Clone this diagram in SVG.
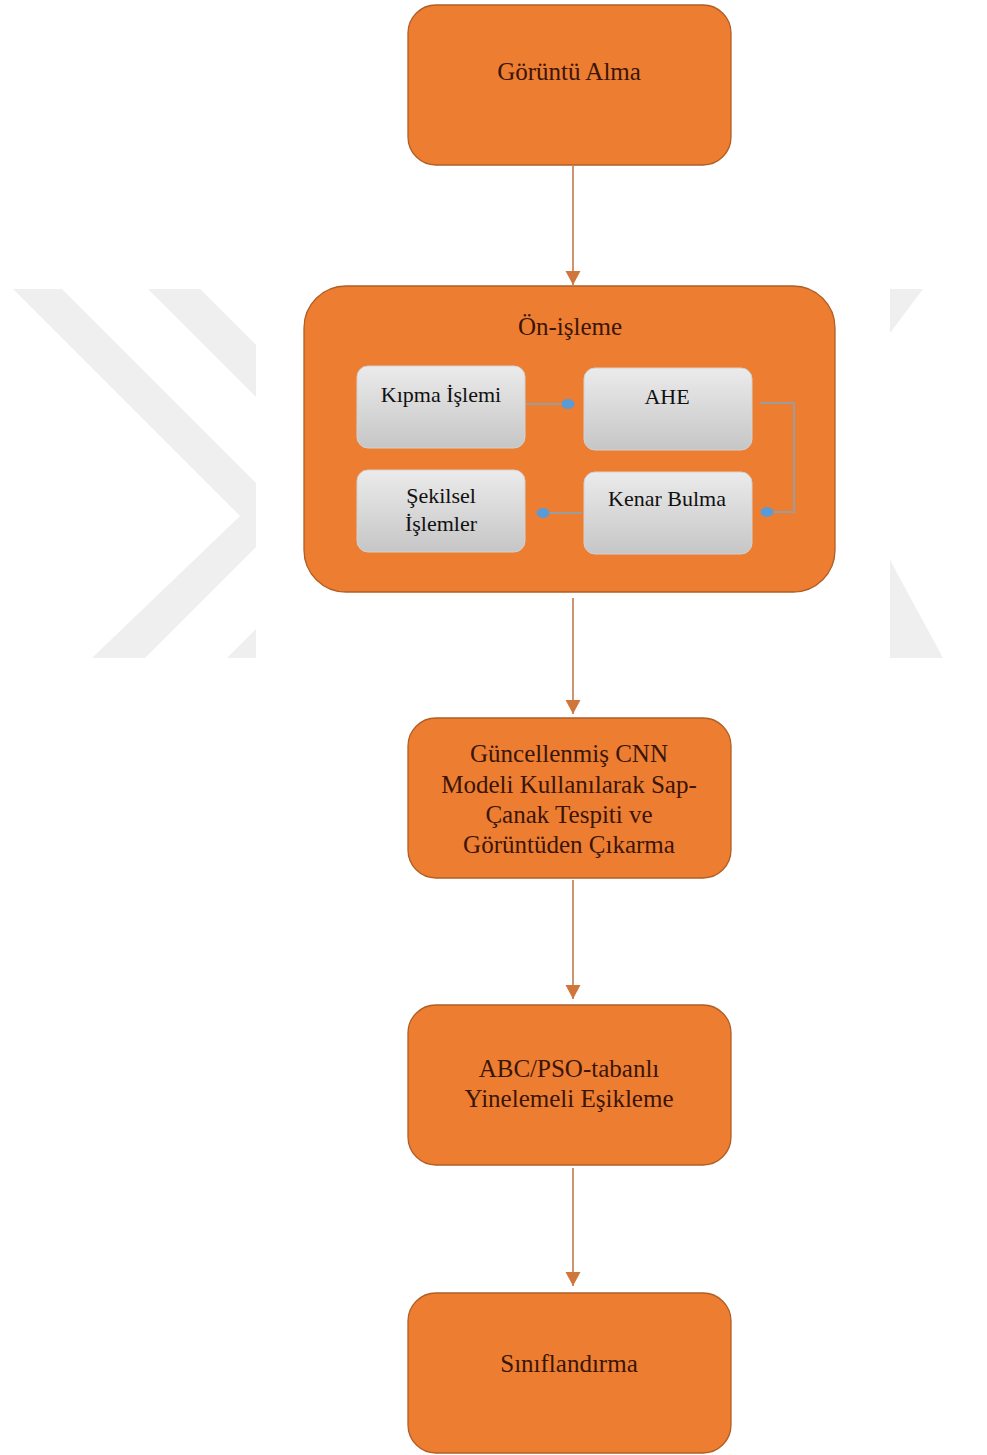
<svg xmlns="http://www.w3.org/2000/svg" width="987" height="1455" viewBox="0 0 987 1455">
<defs>
<linearGradient id="gray" x1="0" y1="0" x2="0" y2="1">
<stop offset="0" stop-color="#ebebeb"/>
<stop offset="1" stop-color="#c6c6c6"/>
</linearGradient>
<marker id="tri" markerWidth="16" markerHeight="16" refX="14" refY="7.5" orient="auto" markerUnits="userSpaceOnUse">
<path d="M0,0 L14,7.5 L0,15 Z" fill="#d0763a"/>
</marker>
<marker id="dot" markerWidth="14" markerHeight="12" refX="7" refY="6" orient="auto" markerUnits="userSpaceOnUse">
<ellipse cx="7" cy="6" rx="6.5" ry="5" fill="#5b9bd5"/>
</marker>
</defs>
<style>
.wm{fill:#efefef}
.ob{fill:#ed7d31;stroke:#b05e24;stroke-width:1.3}
.gb{fill:url(#gray);stroke:#d2d2d2;stroke-width:1}
.ot{font-family:"Liberation Serif","Times New Roman",serif;font-size:25px;fill:#3a1508;text-anchor:middle}
.gt{font-family:"Liberation Serif","Times New Roman",serif;font-size:22px;fill:#111111;text-anchor:middle}
.main{fill:none;stroke:#c27a4c;stroke-width:1.6}
.sub{fill:none;stroke:#9c9c9c;stroke-width:2}
</style>
<rect x="0" y="0" width="987" height="1455" fill="#ffffff"/>
<g id="watermark">
<polygon class="wm" points="13,289 62,289 256,483 256,547 145,658 92,658 240,516"/>
<polygon class="wm" points="148,289 200,289 256,345 256,397"/>
<polygon class="wm" points="227,658 256,629 256,658"/>
<polygon class="wm" points="890,289 923,289 890,333"/>
<polygon class="wm" points="890,560 943,658 890,658"/>
</g>
<g id="connectors">
<line class="main" x1="573" y1="166" x2="573" y2="285" marker-end="url(#tri)"/>
<line class="main" x1="573" y1="598" x2="573" y2="714" marker-end="url(#tri)"/>
<line class="main" x1="573" y1="880" x2="573" y2="999" marker-end="url(#tri)"/>
<line class="main" x1="573" y1="1168" x2="573" y2="1286" marker-end="url(#tri)"/>
</g>
<g id="n1">
<rect class="ob" x="408" y="5" width="323" height="160" rx="28"/>
<text class="ot" x="569" y="80">Görüntü Alma</text>
</g>
<g id="n2">
<rect class="ob" x="304" y="286" width="531" height="306" rx="42"/>
<text class="ot" x="570" y="335">Ön-işleme</text>
</g>
<g id="n2a">
<rect class="gb" x="357" y="366" width="168" height="82" rx="11"/>
<text class="gt" x="441" y="402">Kıpma İşlemi</text>
</g>
<g id="n2b">
<rect class="gb" x="584" y="368" width="168" height="82" rx="11"/>
<text class="gt" x="667" y="404">AHE</text>
</g>
<g id="n2c">
<rect class="gb" x="584" y="472" width="168" height="82" rx="11"/>
<text class="gt" x="667" y="506">Kenar Bulma</text>
</g>
<g id="n2d">
<rect class="gb" x="357" y="470" width="168" height="82" rx="11"/>
<text class="gt" x="441" y="503">Şekilsel</text>
<text class="gt" x="441" y="531">İşlemler</text>
</g>
<g id="subconnectors">
<polyline class="sub" points="526,404 568,404" marker-end="url(#dot)"/>
<polyline class="sub" points="760,403 794,403 794,512 767,512" marker-end="url(#dot)"/>
<polyline class="sub" points="582,513 543,513" marker-end="url(#dot)"/>
</g>
<g id="n3">
<rect class="ob" x="408" y="718" width="323" height="160" rx="28"/>
<text class="ot" x="569" y="762">Güncellenmiş CNN</text>
<text class="ot" x="569" y="793">Modeli Kullanılarak Sap-</text>
<text class="ot" x="569" y="823">Çanak Tespiti ve</text>
<text class="ot" x="569" y="853">Görüntüden Çıkarma</text>
</g>
<g id="n4">
<rect class="ob" x="408" y="1005" width="323" height="160" rx="28"/>
<text class="ot" x="569" y="1077">ABC/PSO-tabanlı</text>
<text class="ot" x="569" y="1107">Yinelemeli Eşikleme</text>
</g>
<g id="n5">
<rect class="ob" x="408" y="1293" width="323" height="160" rx="28"/>
<text class="ot" x="569" y="1372">Sınıflandırma</text>
</g>
</svg>
